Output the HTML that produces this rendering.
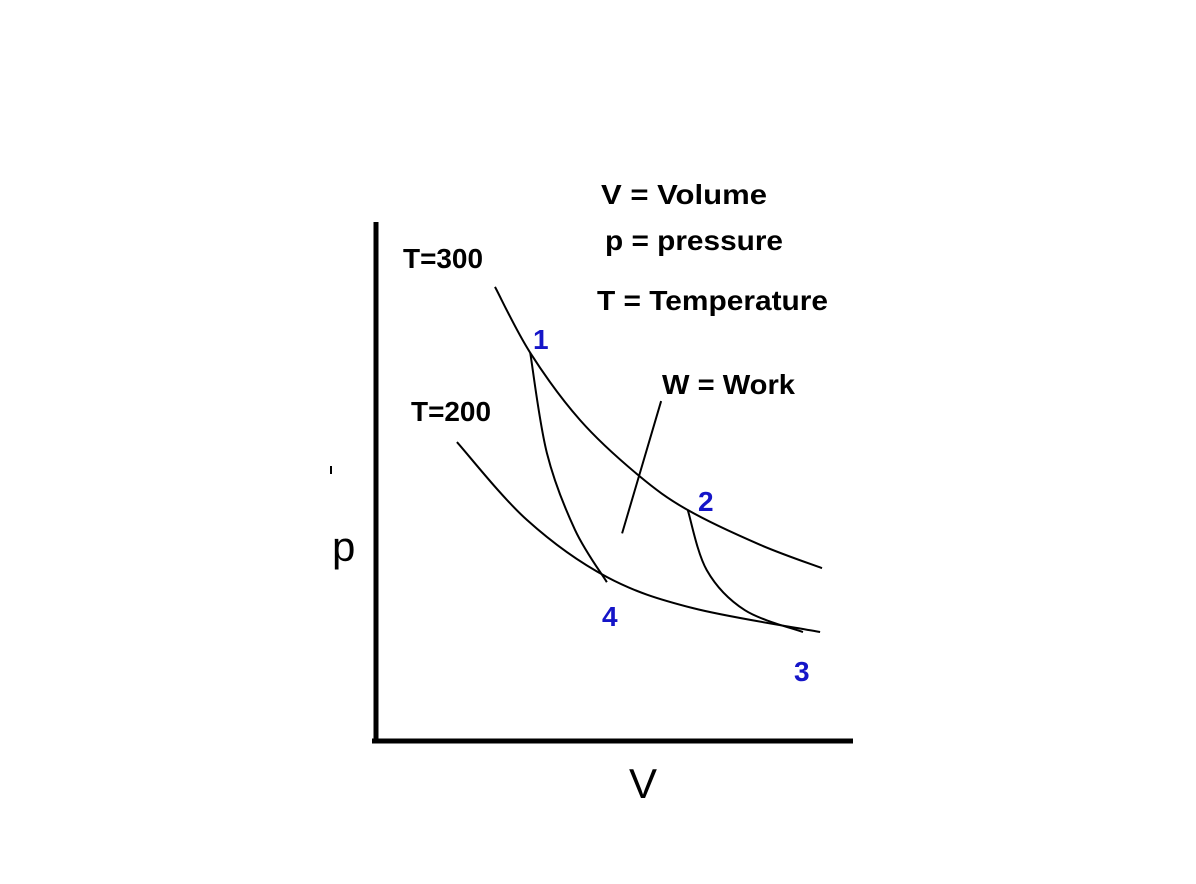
<!DOCTYPE html>
<html><head><meta charset="utf-8"><style>
body{margin:0;background:#fff;}
svg text{font-family:"Liberation Sans",sans-serif;}
.lbl{font-weight:bold;font-size:28px;fill:#000;}
.num{font-weight:bold;font-size:28px;fill:#1515c8;}
</style></head><body>
<svg id="c" width="1196" height="879" viewBox="0 0 1196 879">
<rect width="1196" height="879" fill="#fff"/>
<line x1="376" y1="222" x2="376" y2="743" stroke="#000" stroke-width="5"/>
<line x1="372" y1="741" x2="853" y2="741" stroke="#000" stroke-width="5"/>
<line x1="331" y1="466" x2="331" y2="474" stroke="#000" stroke-width="2"/>
<text x="332" y="561" font-size="42">p</text>
<text x="629" y="798" font-size="42">V</text>
<text class="lbl" x="601" y="204" textLength="166" lengthAdjust="spacingAndGlyphs">V = Volume</text>
<text class="lbl" x="605" y="250" textLength="178" lengthAdjust="spacingAndGlyphs">p = pressure</text>
<text class="lbl" x="597" y="310" textLength="231" lengthAdjust="spacingAndGlyphs">T = Temperature</text>
<text class="lbl" x="662" y="394" textLength="133" lengthAdjust="spacingAndGlyphs">W = Work</text>
<text class="lbl" x="403" y="268" font-size="26" textLength="80" lengthAdjust="spacingAndGlyphs">T=300</text>
<text class="lbl" x="411" y="421" font-size="26" textLength="80" lengthAdjust="spacingAndGlyphs">T=200</text>
<text class="num" x="533" y="349">1</text>
<text class="num" x="698" y="511">2</text>
<text class="num" x="794" y="681">3</text>
<text class="num" x="602" y="626">4</text>
<g id="curves"></g>
</svg>
<script>
const isoHotV=[2.5,3.24,4.29,5.5,6.55,8.07,9.37];
const isoHotP=[8.75,7.48,6.18,5.13,4.45,3.78,3.33];
const isoColdV=[1.7,3.17,4.85,6.66,9.33];
const isoColdP=[5.76,4.26,3.16,2.56,2.10];
const adi14V=[3.24,3.59,4.18,4.85];
const adi14P=[7.48,5.55,4.07,3.06];
const adi23V=[6.55,6.95,7.75,8.97];
const adi23P=[4.45,3.29,2.52,2.1];
const workV=[5.99,5.17];
const workP=[6.55,4.0];
const xs=v=>376+v*47.6, ys=p=>741-p*51.9;
function path(V,P){
  const pts=V.map((v,i)=>[xs(v),ys(P[i])]);
  let d=`M${pts[0][0]},${pts[0][1]}`;
  for(let i=0;i<pts.length-1;i++){
    const p0=pts[Math.max(i-1,0)],p1=pts[i],p2=pts[i+1],p3=pts[Math.min(i+2,pts.length-1)];
    const c1=[p1[0]+(p2[0]-p0[0])/6,p1[1]+(p2[1]-p0[1])/6];
    const c2=[p2[0]-(p3[0]-p1[0])/6,p2[1]-(p3[1]-p1[1])/6];
    d+=` C${c1[0]},${c1[1]} ${c2[0]},${c2[1]} ${p2[0]},${p2[1]}`;
  }
  return d;
}
const g=document.getElementById('curves');
function add(V,P,name){
  const el=document.createElementNS('http://www.w3.org/2000/svg','path');
  el.setAttribute('d',path(V,P));
  el.setAttribute('fill','none');el.setAttribute('stroke','#000');el.setAttribute('stroke-width','2');
  
  
  g.appendChild(el);
}
add(isoHotV,isoHotP,'isotherm-300');
add(isoColdV,isoColdP,'isotherm-200');
add(adi14V,adi14P,'adiabat-1-4');
add(adi23V,adi23P,'adiabat-2-3');
add(workV,workP,'work-pointer');
</script>
</body></html>
